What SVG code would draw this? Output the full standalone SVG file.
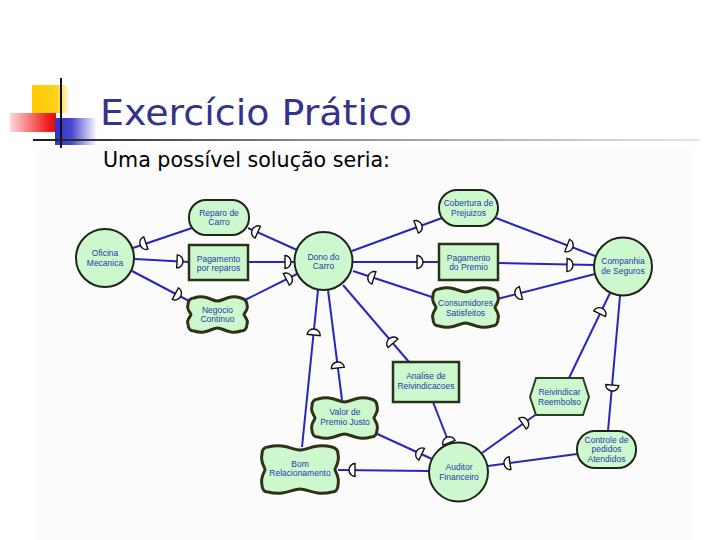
<svg xmlns="http://www.w3.org/2000/svg" xmlns:xlink="http://www.w3.org/1999/xlink" width="720" height="540" viewBox="0 0 720 540">
<style>
.node{fill:#cdf8cd;stroke:#1e2418;stroke-width:2}
.box{fill:#cdf8cd;stroke:#2b3218;stroke-width:2.5}
.cloud{fill:#cdf8cd;stroke:#2f3214;stroke-width:3}
.hex{fill:#cdf8cd;stroke:#2c4020;stroke-width:2}
.lbl{font-family:"Liberation Sans",Arial,sans-serif;font-size:8.5px;fill:#1f3aa8;text-anchor:middle}
.link{stroke:#2626c0;stroke-width:2;fill:none}
.dm{fill:#fff;stroke:#111;stroke-width:1.4}
</style>
<defs>
<path id="d" d="M-3,-6.5 A6,6.5 0 0 1 -3,6.5 Z"/>
<linearGradient id="gy" x1="0" x2="1" y1="0" y2="0"><stop offset="0" stop-color="#ffcc00"/><stop offset="0.7" stop-color="#ffd21e"/><stop offset="1" stop-color="#fff6d0"/></linearGradient>
<linearGradient id="gr" x1="0" x2="1" y1="0" y2="0"><stop offset="0" stop-color="#ffd8d8"/><stop offset="0.85" stop-color="#ee1a1a"/><stop offset="1" stop-color="#e01010"/></linearGradient>
<linearGradient id="gb" x1="0" x2="1" y1="0" y2="0"><stop offset="0" stop-color="#3030c8"/><stop offset="0.4" stop-color="#4a4ad0"/><stop offset="1" stop-color="#ffffff"/></linearGradient>
<linearGradient id="gl" x1="0" x2="1" y1="0" y2="0"><stop offset="0" stop-color="#1a1a1a"/><stop offset="0.4" stop-color="#888"/><stop offset="1" stop-color="#e6e6e6"/></linearGradient>
</defs>
<rect x="0" y="0" width="720" height="540" fill="#ffffff"/>
<rect x="36" y="148" width="656" height="392" fill="#fbfbfb"/>
<g id="decoration">
<rect x="32" y="85" width="36" height="28" fill="url(#gy)"/>
<rect x="10" y="113" width="46" height="19" fill="url(#gr)"/>
<rect x="55" y="118" width="42" height="27" fill="url(#gb)"/>
<line x1="61" y1="78" x2="61" y2="148" stroke="#111" stroke-width="2"/>
<rect x="33" y="139" width="667" height="2" fill="url(#gl)"/>
</g>
<text x="100" y="125" font-family="DejaVu Sans,Verdana,sans-serif" font-size="35" fill="#33338f" textLength="312" lengthAdjust="spacingAndGlyphs">Exercício Prático</text>
<text x="103" y="167" font-family="DejaVu Sans,Verdana,sans-serif" font-size="20.5" fill="#000" textLength="287" lengthAdjust="spacingAndGlyphs">Uma possível solução seria:</text>
<g id="connectors">
<line class="link" x1="133" y1="248" x2="192" y2="228"/>
<line class="link" x1="135" y1="259" x2="189" y2="262"/>
<line class="link" x1="132" y1="271" x2="191" y2="302"/>
<line class="link" x1="248" y1="228" x2="297" y2="250"/>
<line class="link" x1="248" y1="262" x2="295" y2="262"/>
<line class="link" x1="245" y1="300" x2="297" y2="274"/>
<line class="link" x1="352" y1="251" x2="442" y2="218"/>
<line class="link" x1="352" y1="262" x2="439" y2="262"/>
<line class="link" x1="353" y1="271" x2="435" y2="298"/>
<line class="link" x1="496" y1="218" x2="595" y2="256"/>
<line class="link" x1="498" y1="263" x2="594" y2="265"/>
<line class="link" x1="497" y1="299" x2="595" y2="274"/>
<line class="link" x1="610" y1="293" x2="569" y2="378"/>
<line class="link" x1="620" y1="296" x2="608" y2="431"/>
<line class="link" x1="318" y1="290" x2="302" y2="447"/>
<line class="link" x1="328" y1="290" x2="342" y2="400"/>
<line class="link" x1="343" y1="285" x2="409" y2="362"/>
<line class="link" x1="433" y1="402" x2="449" y2="443"/>
<line class="link" x1="373" y1="432" x2="432" y2="459"/>
<line class="link" x1="429" y1="471" x2="338" y2="470"/>
<line class="link" x1="482" y1="453" x2="538" y2="413"/>
<line class="link" x1="488" y1="466" x2="577" y2="454"/>
<use href="#d" class="dm" transform="translate(143,244) rotate(161)"/>
<use href="#d" class="dm" transform="translate(180,261.5) rotate(3)"/>
<use href="#d" class="dm" transform="translate(178,295) rotate(28)"/>
<use href="#d" class="dm" transform="translate(255,231) rotate(204)"/>
<use href="#d" class="dm" transform="translate(288,262) rotate(0)"/>
<use href="#d" class="dm" transform="translate(289,278) rotate(-27)"/>
<use href="#d" class="dm" transform="translate(419,226) rotate(-20)"/>
<use href="#d" class="dm" transform="translate(420,262) rotate(0)"/>
<use href="#d" class="dm" transform="translate(371,277) rotate(198)"/>
<use href="#d" class="dm" transform="translate(570,246.5) rotate(21)"/>
<use href="#d" class="dm" transform="translate(570,265) rotate(1)"/>
<use href="#d" class="dm" transform="translate(518,293.6) rotate(166)"/>
<use href="#d" class="dm" transform="translate(601,311) rotate(-64)"/>
<use href="#d" class="dm" transform="translate(612,388) rotate(95)"/>
<use href="#d" class="dm" transform="translate(314,332) rotate(-84)"/>
<use href="#d" class="dm" transform="translate(337.5,365) rotate(-97)"/>
<use href="#d" class="dm" transform="translate(391,341) rotate(-131)"/>
<use href="#d" class="dm" transform="translate(448,440) rotate(-111)"/>
<use href="#d" class="dm" transform="translate(419,453) rotate(205)"/>
<use href="#d" class="dm" transform="translate(352,470) rotate(180)"/>
<use href="#d" class="dm" transform="translate(525,422) rotate(-35)"/>
<use href="#d" class="dm" transform="translate(507,463.5) rotate(172)"/>
</g>
<g id="oficina"><circle class="node" cx="105" cy="258" r="29"/><text class="lbl" x="105" y="256.25">Oficina</text><text class="lbl" x="105" y="265.75">Mecanica</text></g>
<g id="reparo"><rect class="node" x="189" y="200" width="60" height="35" rx="17"/><text class="lbl" x="219" y="215.75">Reparo de</text><text class="lbl" x="219" y="225.25">Carro</text></g>
<g id="pagrep"><rect class="box" x="189" y="245" width="59" height="35"/><text class="lbl" x="218.5" y="261.75">Pagamento</text><text class="lbl" x="218.5" y="271.25">por reparos</text></g>
<g id="negocio"><path class="cloud" d="M194,298 C205.7,294 211.6,301 217.5,301 C223.4,301 229.3,294 241,298 C245,299 247,301 247,305 C249,309.3 244,312.8 244,314.5 C244,316.3 249,319.8 247,324 C247,328 245,331 241,331 C229.3,335 223.4,328 217.5,328 C211.6,328 205.7,335 194,331 C190,331 188,328 188,324 C186,319.8 191,316.3 191,314.5 C191,312.8 186,309.3 188,305 C188,301 190,298 194,298 Z"/><text class="lbl" x="217.5" y="312.75">Negocio</text><text class="lbl" x="217.5" y="322.25">Continuo</text></g>
<g id="dono"><circle class="node" cx="323.5" cy="261" r="29"/><text class="lbl" x="323.5" y="259.75">Dono do</text><text class="lbl" x="323.5" y="269.25">Carro</text></g>
<g id="cobertura"><rect class="node" x="439" y="190" width="59" height="36" rx="18"/><text class="lbl" x="468.5" y="206.25">Cobertura de</text><text class="lbl" x="468.5" y="215.75">Prejuizos</text></g>
<g id="pagprem"><rect class="box" x="439" y="244" width="59" height="36"/><text class="lbl" x="468.5" y="260.75">Pagamento</text><text class="lbl" x="468.5" y="270.25">do Premio</text></g>
<g id="consumidores"><path class="cloud" d="M439,289 C452.5,285 459,292 465.5,292 C472,292 478.5,285 492,289 C496,290 498,292 498,296 C500,301.7 495,305.6 495,307.5 C495,309.5 500,313.4 498,319 C498,323 496,326 492,326 C478.5,330 472,323 465.5,323 C459,323 452.5,330 439,326 C435,326 433,323 433,319 C431,313.4 436,309.5 436,307.5 C436,305.6 431,301.7 433,296 C433,292 435,289 439,289 Z"/><text class="lbl" x="465.5" y="306.25">Consumidores</text><text class="lbl" x="465.5" y="315.75">Satisfeitos</text></g>
<g id="companhia"><circle class="node" cx="623" cy="266.5" r="29"/><text class="lbl" x="623" y="264.25">Companhia</text><text class="lbl" x="623" y="273.75">de Seguros</text></g>
<g id="analise"><rect class="box" x="393" y="362" width="66" height="40"/><text class="lbl" x="426" y="379.25">Analise de</text><text class="lbl" x="426" y="388.75">Reivindicacoes</text></g>
<g id="valor"><path class="cloud" d="M318,399 C331.5,395 338,402 344.5,402 C351,402 357.5,395 371,399 C375,400 377,402 377,406 C379,412 374,416 374,418 C374,420 379,424 377,430 C377,434 375,437 371,437 C357.5,441 351,434 344.5,434 C338,434 331.5,441 318,437 C314,437 312,434 312,430 C310,424 315,420 315,418 C315,416 310,412 312,406 C312,402 314,399 318,399 Z"/><text class="lbl" x="345" y="415.25">Valor de</text><text class="lbl" x="345" y="424.75">Premio Justo</text></g>
<g id="bom"><path class="cloud" d="M268,447 C284.8,443 292.4,450 300,450 C307.6,450 315.2,443 332,447 C336,448 338,450 338,454 C340,462.5 335,467 335,469.5 C335,472 340,476.5 338,485 C338,489 336,492 332,492 C315.2,496 307.6,489 300,489 C292.4,489 284.8,496 268,492 C264,492 262,489 262,485 C260,476.5 265,472 265,469.5 C265,467 260,462.5 262,454 C262,450 264,447 268,447 Z"/><text class="lbl" x="300" y="466.75">Bom</text><text class="lbl" x="300" y="476.25">Relacionamento</text></g>
<g id="auditor"><circle class="node" cx="458.5" cy="472" r="29.5"/><text class="lbl" x="459" y="470.25">Auditor</text><text class="lbl" x="459" y="479.75">Financeiro</text></g>
<g id="reivindicar"><polygon class="hex" points="530,397 536,378 583,378 589,397 583,415 536,415"/><text class="lbl" x="559.5" y="395.25">Reivindicar</text><text class="lbl" x="559.5" y="404.75">Reembolso</text></g>
<g id="controle"><rect class="node" x="577" y="431" width="59" height="37" rx="18"/><text class="lbl" x="606.5" y="442.5">Controle de</text><text class="lbl" x="606.5" y="452">pedidos</text><text class="lbl" x="606.5" y="461.5">Atendidos</text></g>
</svg>
